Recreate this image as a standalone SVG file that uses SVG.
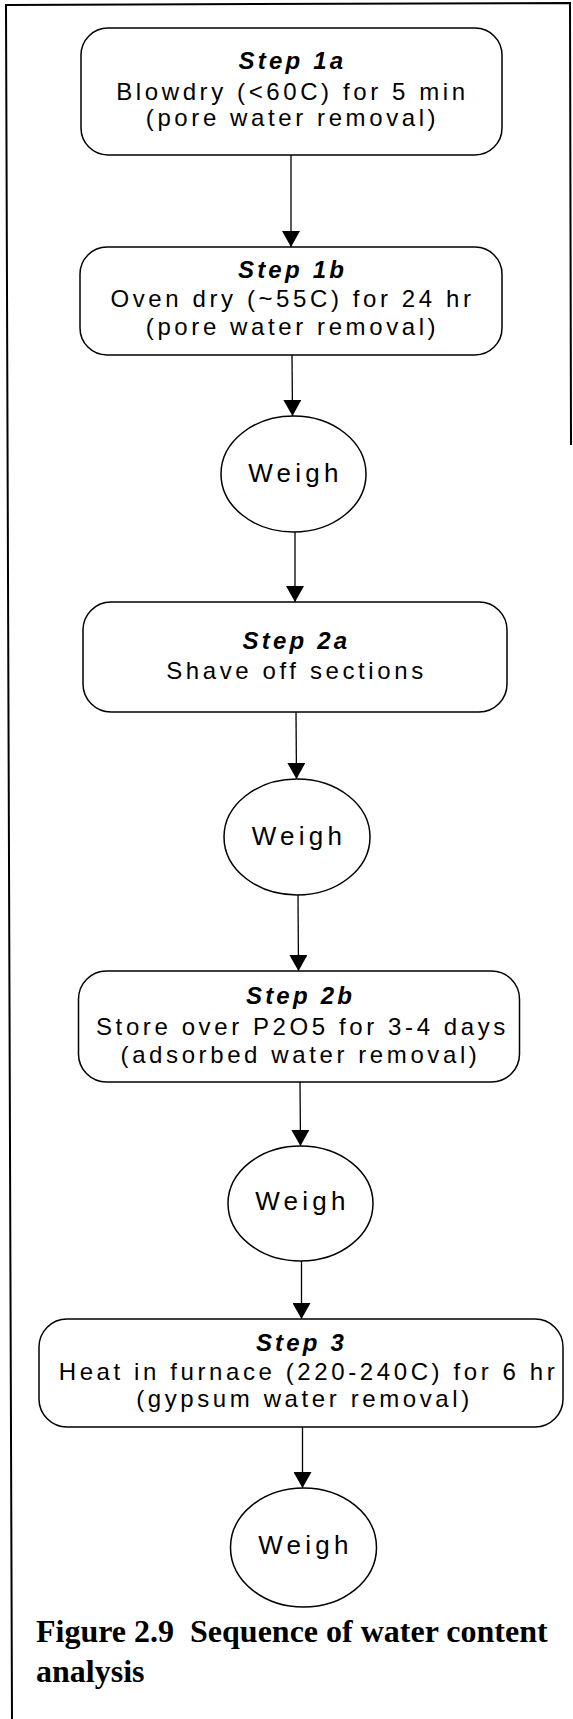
<svg xmlns="http://www.w3.org/2000/svg" width="573" height="1719" viewBox="0 0 573 1719">
<defs>
<style>
.box{fill:#fff;stroke:#000;stroke-width:1.5}
.conn{stroke:#000;stroke-width:1.3;fill:none}
.t{font-family:"Liberation Sans",Arial,sans-serif;font-size:24px;letter-spacing:3.6px;text-anchor:middle;fill:#000}
.h{font-family:"Liberation Sans",Arial,sans-serif;font-size:24px;letter-spacing:3.2px;font-weight:bold;font-style:italic;text-anchor:middle;fill:#000}
.w{font-family:"Liberation Sans",Arial,sans-serif;font-size:26px;letter-spacing:4.3px;text-anchor:middle;fill:#000}
.cap{font-family:"Liberation Serif","Times New Roman",serif;font-size:32px;font-weight:bold;fill:#000}
</style>
<marker id="arr" markerUnits="userSpaceOnUse" markerWidth="16" markerHeight="18" viewBox="0 0 16 18" refX="16" refY="9" orient="auto">
<path d="M0,0 L16,9 L0,18 z" fill="#000"/>
</marker>
</defs>
<rect width="573" height="1719" fill="#fff"/>
<path d="M571,445 L570,3 L6,5 L12,1719" fill="none" stroke="#000" stroke-width="2"/>
<g id="connectors">
<line class="conn" x1="291" y1="155" x2="291" y2="247" marker-end="url(#arr)"/>
<line class="conn" x1="292" y1="355" x2="292.5" y2="416" marker-end="url(#arr)"/>
<line class="conn" x1="295" y1="532" x2="295" y2="602" marker-end="url(#arr)"/>
<line class="conn" x1="296" y1="712" x2="296.5" y2="779" marker-end="url(#arr)"/>
<line class="conn" x1="298" y1="895" x2="298.5" y2="971" marker-end="url(#arr)"/>
<line class="conn" x1="300" y1="1082" x2="300.5" y2="1146" marker-end="url(#arr)"/>
<line class="conn" x1="301.5" y1="1261" x2="301.5" y2="1319" marker-end="url(#arr)"/>
<line class="conn" x1="302.5" y1="1427" x2="302.5" y2="1488" marker-end="url(#arr)"/>
</g>
<g id="step1a">
<rect class="box" x="81" y="28" width="421" height="127" rx="27"/>
<text class="h" x="292.5" y="69">Step 1a</text>
<text class="t" x="292.5" y="100">Blowdry (&lt;60C) for 5 min</text>
<text class="t" x="292.5" y="126">(pore water removal)</text>
</g>
<g id="step1b">
<rect class="box" x="80" y="247" width="422" height="108" rx="27"/>
<text class="h" x="292.5" y="278">Step 1b</text>
<text class="t" x="292.5" y="307">Oven dry (~55C) for 24 hr</text>
<text class="t" x="292.5" y="335">(pore water removal)</text>
</g>
<g id="weigh1">
<ellipse class="box" cx="293.5" cy="474" rx="72.5" ry="58"/>
<text class="w" x="295.5" y="482">Weigh</text>
</g>
<g id="step2a">
<rect class="box" x="83" y="602" width="424" height="110" rx="28"/>
<text class="h" x="296.5" y="649">Step 2a</text>
<text class="t" x="296.5" y="679">Shave off sections</text>
</g>
<g id="weigh2">
<ellipse class="box" cx="297" cy="837" rx="73" ry="58"/>
<text class="w" x="299" y="845">Weigh</text>
</g>
<g id="step2b">
<rect class="box" x="78.5" y="971" width="441" height="111" rx="28"/>
<text class="h" x="300.5" y="1004">Step 2b</text>
<text class="t" x="302.5" y="1035">Store over P2O5 for 3-4 days</text>
<text class="t" x="300.5" y="1063">(adsorbed water removal)</text>
</g>
<g id="weigh3">
<ellipse class="box" cx="300.5" cy="1203.5" rx="72.5" ry="57.5"/>
<text class="w" x="302.5" y="1210">Weigh</text>
</g>
<g id="step3">
<rect class="box" x="39" y="1319" width="524" height="108" rx="28"/>
<text class="h" x="301.5" y="1351">Step 3</text>
<text class="t" x="308.5" y="1380">Heat in furnace (220-240C) for 6 hr</text>
<text class="t" x="304.5" y="1407">(gypsum water removal)</text>
</g>
<g id="weigh4">
<ellipse class="box" cx="303.5" cy="1547.5" rx="73" ry="59.5"/>
<text class="w" x="305.5" y="1554">Weigh</text>
</g>
<g id="caption">
<text class="cap" x="36" y="1642" xml:space="preserve">Figure 2.9  Sequence of water content</text>
<text class="cap" x="36" y="1682">analysis</text>
</g>
</svg>
